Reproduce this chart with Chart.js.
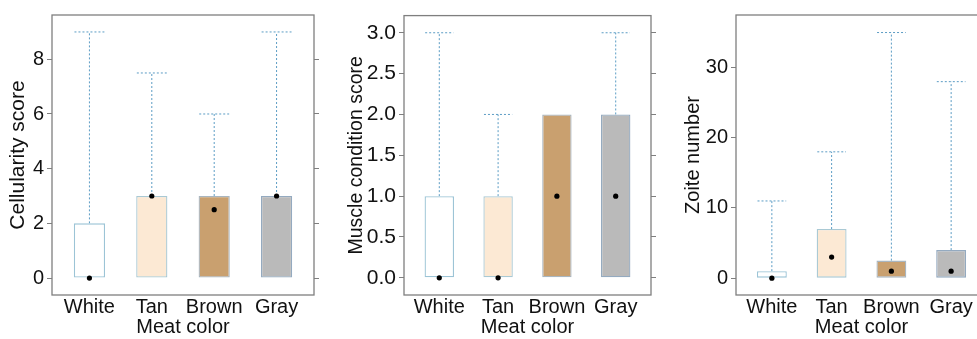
<!DOCTYPE html>
<html>
<head>
<meta charset="utf-8">
<script src="https://cdn.jsdelivr.net/npm/chart.js@4.4.0/dist/chart.umd.min.js"></script>
<style>
  html, body { margin: 0; padding: 0; background: #fff; overflow: hidden; }
  body { width: 977px; height: 339px; position: relative; }
  .panel { position: absolute; top: 0; height: 339px; }
</style>
</head>
<body>
<div class="panel" style="left:0px;width:322px"><canvas id="c1"></canvas></div>
<div class="panel" style="left:339px;width:320px"><canvas id="c2"></canvas></div>
<div class="panel" style="left:675px;width:320px"><canvas id="c3"></canvas></div>
<script>
// categories
const meatColors = ["White", "Tan", "Brown", "Gray"];

// box stats per panel
const cellLow    = [0, 0, 0, 0];
const cellQ3     = [2, 3, 3, 3];
const cellMax    = [9, 7.5, 6, 9];
const cellMedian = [0, 3, 2.5, 3];
const cellTicks  = [0, 2, 4, 6, 8];

const muscleLow    = [0, 0, 0, 0];
const muscleQ3     = [1, 1, 2, 2];
const muscleMax    = [3, 2, 2, 3];
const muscleMedian = [0, 0, 1, 1];
const muscleTicks  = [0, 0.5, 1, 1.5, 2, 2.5, 3];

const zoiteLow    = [0, 0, 0, 0];
const zoiteQ3     = [1, 7, 2.5, 4];
const zoiteMax    = [11, 18, 35, 28];
const zoiteMedian = [0, 3, 1, 1];
const zoiteTicks  = [0, 10, 20, 30];

const fillColors   = ["#ffffff", "#fce9d4", "#c9a06f", "#bababa"];
const borderColors = ["#9cc4d6", "#a9c9d4", "#a9b6c0", "#94aac0"];
const whiskerColor = "#5b9cc4";
const fontFamily = "Arial, 'Liberation Sans', sans-serif";
const xFont = { family: fontFamily, size: 20 };

// draws the frame round the plot area
const framePlugin = {
    id: "frame",
    afterDraw(chart) {
        const a = chart.chartArea, ctx = chart.ctx;
        ctx.save();
        ctx.strokeStyle = "#7f7f7f";
        ctx.lineWidth = 1.3;
        ctx.strokeRect(a.left, a.top, a.right - a.left, a.bottom - a.top);
        ctx.restore();
    }
};

function makeBoxChart(id, cfg) {
    const boxes = meatColors.map((c, i) => ({ x: i + 1, y: [cfg.low[i], cfg.q3[i]] }));
    const whiskers = [];
    meatColors.forEach((c, i) => {
        const x = i + 1;
        if (cfg.max[i] > cfg.q3[i]) {
            whiskers.push({ x: x, y: cfg.q3[i] }, { x: x, y: cfg.max[i] }, { x: x, y: null });
            whiskers.push({ x: x - 0.24, y: cfg.max[i] }, { x: x + 0.24, y: cfg.max[i] }, { x: x, y: null });
        }
    });
    const medians = meatColors.map((c, i) => ({ x: i + 1, y: cfg.median[i] }));

    new Chart(document.getElementById(id), {
        data: {
            datasets: [
                {
                    type: "bar",
                    data: boxes,
                    backgroundColor: fillColors,
                    borderColor: borderColors,
                    borderWidth: 1.3,
                    borderSkipped: false,
                    categoryPercentage: 1,
                    barPercentage: 0.5,
                    order: 2
                },
                {
                    type: "scatter",
                    data: whiskers,
                    showLine: true,
                    spanGaps: false,
                    borderColor: whiskerColor,
                    borderWidth: 1,
                    borderDash: [2, 2],
                    pointRadius: 0,
                    order: 3
                },
                {
                    type: "scatter",
                    data: medians,
                    pointRadius: 2.6,
                    pointBackgroundColor: "#000",
                    pointBorderWidth: 0,
                    order: 0
                }
            ]
        },
        options: {
            responsive: true,
            maintainAspectRatio: false,
            animation: false,
            layout: { padding: { top: 13, left: 0, right: 0, bottom: 0 } },
            plugins: { legend: { display: false }, tooltip: { enabled: false } },
            scales: {
                x: {
                    type: "linear",
                    offset: false,
                    min: 0.4,
                    max: 4.6,
                    afterBuildTicks: s => { s.ticks = meatColors.map((c, i) => ({ value: i + 1 })); },
                    afterFit: s => { s.height = 44; s.paddingLeft = 0; s.paddingRight = 0; },
                    grid: { display: false, drawTicks: false },
                    border: { display: false },
                    ticks: {
                        color: "#111",
                        font: xFont,
                        padding: 0,
                        maxRotation: 0,
                        autoSkip: false,
                        callback: v => meatColors[Math.round(v) - 1]
                    },
                    title: { display: true, text: "Meat color", color: "#111", font: xFont, padding: { top: 0, bottom: 0 } }
                },
                y: {
                    position: "left",
                    min: cfg.min,
                    max: cfg.maxY,
                    afterBuildTicks: s => { s.ticks = cfg.ticks.map(v => ({ value: v })); },
                    afterFit: s => { s.width = cfg.axisWidth; },
                    grid: { drawOnChartArea: false, tickLength: 5, color: "#7f7f7f" },
                    border: { display: false },
                    ticks: {
                        color: "#111",
                        font: { family: fontFamily, size: cfg.tickSize },
                        padding: 3,
                        callback: cfg.fmt
                    },
                    title: { display: true, text: cfg.title, color: "#111", font: { family: fontFamily, size: cfg.titleSize }, padding: { top: 6, bottom: 0 } }
                },
                y2: {
                    position: "right",
                    min: cfg.min,
                    max: cfg.maxY,
                    afterBuildTicks: s => { s.ticks = cfg.ticks.map(v => ({ value: v })); },
                    afterFit: s => { s.width = 8; },
                    grid: { drawOnChartArea: false, tickLength: 5, color: "#7f7f7f" },
                    border: { display: false },
                    ticks: { display: false }
                }
            }
        },
        plugins: [framePlugin]
    });
}

makeBoxChart("c1", {
    low: cellLow, q3: cellQ3, max: cellMax, median: cellMedian, ticks: cellTicks,
    min: -0.62, maxY: 9.62, title: "Cellularity score", axisWidth: 52,
    tickSize: 20, titleSize: 21, fmt: v => String(v)
});
makeBoxChart("c2", {
    low: muscleLow, q3: muscleQ3, max: muscleMax, median: muscleMedian, ticks: muscleTicks,
    min: -0.21, maxY: 3.21, title: "Muscle condition score", axisWidth: 65,
    tickSize: 21, titleSize: 19.5, fmt: v => Number(v).toFixed(1)
});
makeBoxChart("c3", {
    low: zoiteLow, q3: zoiteQ3, max: zoiteMax, median: zoiteMedian, ticks: zoiteTicks,
    min: -2.4, maxY: 37.5, title: "Zoite number", axisWidth: 61,
    tickSize: 20, titleSize: 20, fmt: v => String(v)
});
</script>
</body>
</html>
